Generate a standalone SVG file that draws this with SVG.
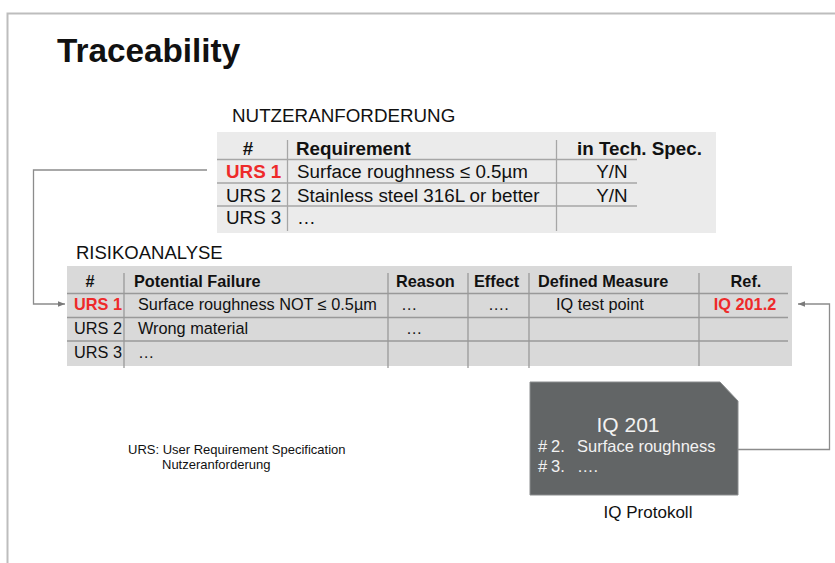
<svg xmlns="http://www.w3.org/2000/svg" width="835" height="563" viewBox="0 0 835 563">
<style>
text{font-family:"Liberation Sans",Arial,sans-serif;fill:#111}
.b{font-weight:bold}
.red{fill:#ee2a2a;font-weight:bold}
.u{font-size:18.8px}
.l{font-size:16.3px}
.grid1{stroke:#a6a6a6;stroke-width:1.3}
.grid2{stroke:#999;stroke-width:1.3}
.conn{fill:none;stroke:#8c8c8c;stroke-width:1.3}
.w{fill:#f2f2f2}
</style>
<defs>
<marker id="ah" viewBox="0 0 10 10" refX="10" refY="5" markerWidth="7" markerHeight="7" markerUnits="userSpaceOnUse" orient="auto">
<path d="M0,1 L10,5 L0,9 Z" fill="#7a7a7a"/>
</marker>
</defs>
<rect width="835" height="563" fill="#fff"/>
<path d="M7.5,563 V13.5 H835" fill="none" stroke="#bdbdbd" stroke-width="2"/>
<text x="57" y="62" class="b" style="font-size:33.3px">Traceability</text>

<g id="urs-table">
<text x="232" y="122" style="font-size:18.8px">NUTZERANFORDERUNG</text>
<rect x="217" y="132" width="499" height="101" fill="#ebebeb"/>
<g class="grid1">
<line x1="287.5" y1="140" x2="287.5" y2="231"/>
<line x1="556.5" y1="140" x2="556.5" y2="231"/>
<line x1="217" y1="159.5" x2="637" y2="159.5"/>
<line x1="217" y1="183" x2="637" y2="183"/>
<line x1="217" y1="206" x2="637" y2="206"/>
</g>
<g class="u">
<text x="248" y="155" class="b" text-anchor="middle">#</text>
<text x="296" y="155" class="b">Requirement</text>
<text x="577" y="155" class="b">in Tech. Spec.</text>
<text x="226" y="178" class="red">URS 1</text>
<text x="297" y="178">Surface roughness ≤ 0.5µm</text>
<text x="612" y="178" text-anchor="middle">Y/N</text>
<text x="226" y="202">URS 2</text>
<text x="297" y="202">Stainless steel 316L or better</text>
<text x="612" y="202" text-anchor="middle">Y/N</text>
<text x="226" y="224">URS 3</text>
<text x="297" y="224">…</text>
</g>
</g>

<g id="risk-table">
<text x="76" y="259" style="font-size:18.5px">RISIKOANALYSE</text>
<rect x="67" y="266" width="725" height="100" fill="#d9d9d9"/>
<g class="grid2">
<line x1="124" y1="273" x2="124" y2="368"/>
<line x1="388" y1="273" x2="388" y2="368"/>
<line x1="468" y1="273" x2="468" y2="368"/>
<line x1="529" y1="273" x2="529" y2="368"/>
<line x1="699" y1="273" x2="699" y2="366"/>
<line x1="67" y1="293.5" x2="788" y2="293.5"/>
<line x1="67" y1="317.5" x2="788" y2="317.5"/>
<line x1="67" y1="341" x2="788" y2="341"/>
</g>
<g class="l">
<text x="90" y="287" class="b" text-anchor="middle">#</text>
<text x="134" y="287" class="b">Potential Failure</text>
<text x="396" y="287" class="b">Reason</text>
<text x="474" y="287" class="b">Effect</text>
<text x="538" y="287" class="b">Defined Measure</text>
<text x="746" y="287" class="b" text-anchor="middle">Ref.</text>
<text x="74" y="310" class="red">URS 1</text>
<text x="138" y="310">Surface roughness NOT ≤ 0.5µm</text>
<text x="401" y="310">…</text>
<text x="488" y="310">….</text>
<text x="556" y="310">IQ test point</text>
<text x="745" y="310" class="red" text-anchor="middle">IQ 201.2</text>
<text x="74" y="334">URS 2</text>
<text x="138" y="334">Wrong material</text>
<text x="406" y="334">…</text>
<text x="74" y="358">URS 3</text>
<text x="138" y="358">…</text>
</g>
</g>

<g id="iq-protokoll">
<polygon points="530,382 720,382 738,401 738,495 530,495" fill="#626566" stroke="#8a8d8e" stroke-width="1"/>
<text x="628" y="432" class="w" text-anchor="middle" style="font-size:21px">IQ 201</text>
<text x="538" y="452" class="w" style="font-size:16.5px">#<tspan x="551">2.</tspan><tspan x="577">Surface roughness</tspan></text>
<text x="538" y="472" class="w" style="font-size:16.5px">#<tspan x="551">3.</tspan><tspan x="577">….</tspan></text>
<text x="648" y="518" text-anchor="middle" style="font-size:17px">IQ Protokoll</text>
</g>

<g id="footnote">
<text x="128" y="454" style="font-size:13px">URS: User Requirement Specification</text>
<text x="162" y="469" style="font-size:13px">Nutzeranforderung</text>
</g>

<g id="connectors">
<path class="conn" d="M207,170 H33.5 V304 H65" marker-end="url(#ah)"/>
<path class="conn" d="M738,449.5 H829.5 V304 H798" marker-end="url(#ah)"/>
</g>
</svg>
